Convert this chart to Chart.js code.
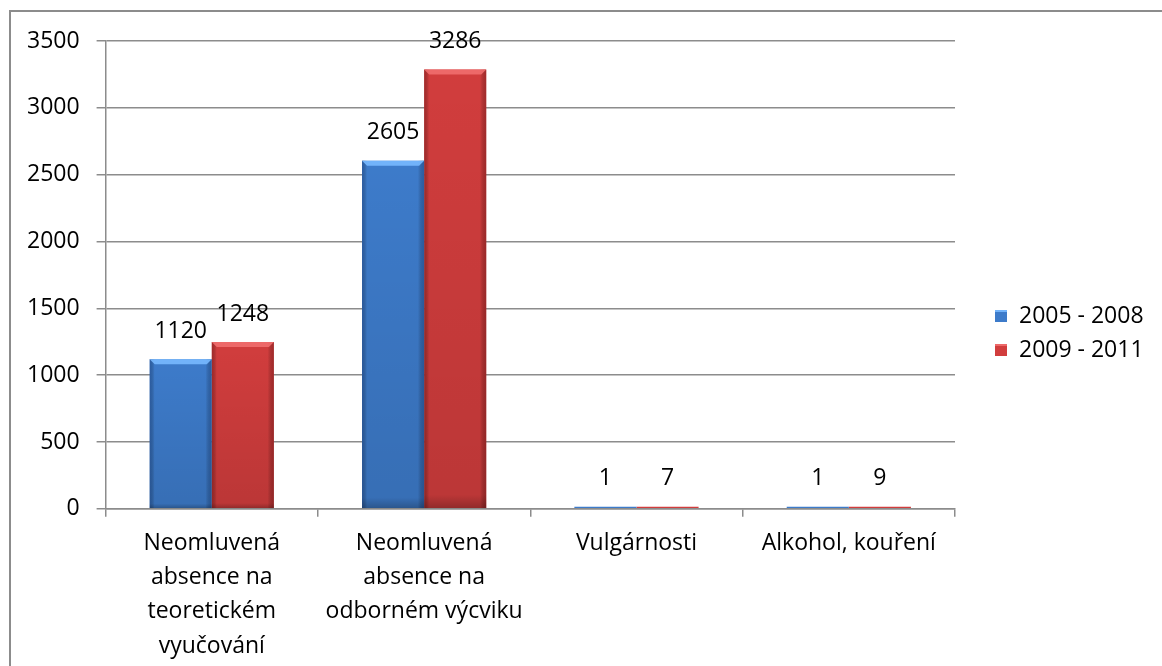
<!DOCTYPE html>
<html>
<head>
<meta charset="utf-8">
<script src="https://cdn.jsdelivr.net/npm/chart.js@4.4.1/dist/chart.umd.min.js"></script>
<style>
  html, body { margin: 0; padding: 0; background: #fff; overflow: hidden; }
  #frame { position: absolute; left: 9px; top: 10px; width: 1200px; height: 700px; border: 2px solid #8c8c8c; }
  #wrap { position: absolute; left: 0; top: 0; width: 1162px; height: 666px; }
</style>
</head>
<body>
<div id="frame"></div>
<div id="wrap"><canvas id="myChart" width="1162" height="666"></canvas></div>
<script>
var categories = [
  ["Neomluvená", "absence na", "teoretickém", "vyučování"],
  ["Neomluvená", "absence na", "odborném výcviku"],
  "Vulgárnosti",
  "Alkohol, kouření"
];
var seriesNames = ["2005 - 2008", "2009 - 2011"];
var values2005 = [1120, 2605, 1, 1];
var values2009 = [1248, 3286, 7, 9];
var yMax = 3500;
var yStep = 500;

var FONT = "'Open Sans', sans-serif";
var FONT_SIZE = 23;
var colors = ['#3d7bca', '#d13d3d'];
var shades = [
  { light: 'rgba(120,185,255,0.9)', dark: 'rgba(25,60,120,0.45)' },
  { light: 'rgba(240,110,110,0.9)', dark: 'rgba(110,20,20,0.45)' }
];

// bevel look of the excel bars, drawn over the flat fill
var bevelPlugin = {
  id: 'bevel',
  afterDatasetsDraw: function(chart) {
    var ctx = chart.ctx;
    chart.data.datasets.forEach(function(ds, i) {
      var meta = chart.getDatasetMeta(i);
      meta.data.forEach(function(bar) {
        var left = bar.x - bar.width / 2, right = bar.x + bar.width / 2;
        var top = bar.y, bottom = bar.base;
        var h = bottom - top;
        if (h < 4) return;
        ctx.save();
        var g = ctx.createLinearGradient(left, 0, right, 0);
        g.addColorStop(0, shades[i].dark);
        g.addColorStop(0.08, 'rgba(0,0,0,0)');
        g.addColorStop(0.9, 'rgba(0,0,0,0)');
        g.addColorStop(1, shades[i].dark);
        ctx.fillStyle = g;
        ctx.fillRect(left, top, right - left, h);
        var gv = ctx.createLinearGradient(0, top, 0, bottom);
        gv.addColorStop(0, 'rgba(0,0,0,0)');
        gv.addColorStop(0.97, 'rgba(0,0,0,0.1)');
        gv.addColorStop(1, 'rgba(0,0,0,0.3)');
        ctx.fillStyle = gv;
        ctx.fillRect(left, top, right - left, h);
        ctx.fillStyle = shades[i].light;
        ctx.beginPath();
        ctx.moveTo(left, top);
        ctx.lineTo(right, top);
        ctx.lineTo(right - 5, top + 5);
        ctx.lineTo(left + 5, top + 5);
        ctx.closePath();
        ctx.fill();
        ctx.restore();
      });
    });
  }
};

var valueLabels = {
  id: 'valueLabels',
  afterDatasetsDraw: function(chart) {
    var ctx = chart.ctx;
    ctx.save();
    ctx.font = FONT_SIZE + 'px ' + FONT;
    ctx.fillStyle = '#000';
    ctx.textAlign = 'center';
    ctx.textBaseline = 'middle';
    chart.data.datasets.forEach(function(ds, i) {
      chart.getDatasetMeta(i).data.forEach(function(bar, j) {
        ctx.fillText(ds.data[j], bar.x, bar.y - 28);
      });
    });
    ctx.restore();
  }
};

// legend to the right of the plot, vertically centred on the canvas
var sideLegend = {
  id: 'sideLegend',
  afterDraw: function(chart) {
    var ctx = chart.ctx;
    var x = chart.chartArea.right + 40;
    var yMid = chart.height / 2;
    ctx.save();
    ctx.font = FONT_SIZE + 'px ' + FONT;
    ctx.textBaseline = 'middle';
    ctx.textAlign = 'left';
    chart.data.datasets.forEach(function(ds, i) {
      var y = yMid + (i - 0.5) * 34;
      ctx.fillStyle = ds.backgroundColor;
      ctx.fillRect(x, y - 6, 12, 12);
      ctx.fillStyle = shades[i].light;
      ctx.fillRect(x, y - 6, 12, 2);
      ctx.fillStyle = '#000';
      ctx.fillText(ds.label, x + 24, y);
    });
    ctx.restore();
  }
};

var ctx = document.getElementById('myChart').getContext('2d');
var myChart = new Chart(ctx, {
  type: 'bar',
  data: {
    labels: categories,
    datasets: [
      { label: seriesNames[0], data: values2005, backgroundColor: colors[0], borderWidth: 0, minBarLength: 2 },
      { label: seriesNames[1], data: values2009, backgroundColor: colors[1], borderWidth: 0, minBarLength: 2 }
    ]
  },
  options: {
    responsive: false,
    animation: false,
    layout: { padding: { top: 41, left: 10, right: 207, bottom: -7 } },
    datasets: { bar: { categoryPercentage: 0.585, barPercentage: 1 } },
    plugins: {
      tooltip: { enabled: false },
      legend: { display: false }
    },
    scales: {
      y: {
        min: 0, max: yMax,
        ticks: {
          stepSize: yStep, color: '#000', padding: 17,
          font: { family: FONT, size: FONT_SIZE },
          callback: function(v) { return String(v); }
        },
        grid: { color: '#8c8c8c', lineWidth: 1.5, tickLength: 9 },
        border: { color: '#8c8c8c', width: 1.5 }
      },
      x: {
        ticks: { color: '#000', padding: 10, maxRotation: 0, autoSkip: false, font: { family: FONT, size: FONT_SIZE, lineHeight: 1.48 } },
        grid: { color: '#8c8c8c', lineWidth: 1.5, drawOnChartArea: false, tickLength: 8 },
        border: { color: '#8c8c8c', width: 1.5 }
      }
    }
  },
  plugins: [bevelPlugin, valueLabels, sideLegend]
});
</script>
</body>
</html>
